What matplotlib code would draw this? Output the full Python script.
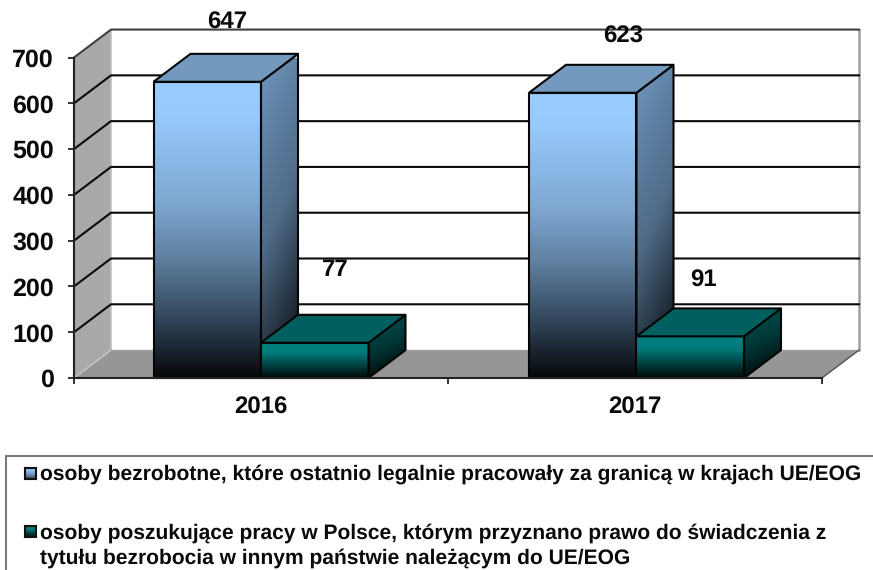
"""Unemployed persons chart with a hand-built 3D bar look."""

import matplotlib

matplotlib.use("Agg")

import matplotlib.pyplot as plt
import numpy as np
from matplotlib.colors import LinearSegmentedColormap
from matplotlib.patches import Polygon, Rectangle

years = ["2016", "2017"]
unemployed = [647, 623]
job_seekers = [77, 91]
y_ticks = [0, 100, 200, 300, 400, 500, 600, 700]
legend_first = "osoby bezrobotne, które ostatnio legalnie pracowały za granicą w krajach UE/EOG"
legend_second = [
    "osoby poszukujące pracy w Polsce, którym przyznano prawo do świadczenia z",
    "tytułu bezrobocia w innym państwie należącym do UE/EOG",
]

W, H = 873, 570
plt.rcParams["font.family"] = ["Liberation Sans", "DejaVu Sans"]
plt.rcParams["font.weight"] = "bold"
plt.rcParams["text.hinting"] = "none"
plt.rcParams["text.hinting_factor"] = 1

BLUE_FRONT = LinearSegmentedColormap.from_list(
    "bf", [(0, "#99CCFF"), (0.12, "#97C9FC"), (0.4, "#7FA8D2"), (0.6, "#5F80A0"), (0.8, "#33475C"), (1, "#06080B")]
)
BLUE_SIDE = LinearSegmentedColormap.from_list(
    "bs", [(0, "#6A8EB4"), (0.15, "#5F82A6"), (0.5, "#4F6B87"), (0.7, "#35495D"), (1, "#12171E")]
)
TEAL_FRONT = LinearSegmentedColormap.from_list("tf", [(0, "#008080"), (0.3, "#007A7A"), (1, "#000808")])
TEAL_SIDE = LinearSegmentedColormap.from_list("ts", [(0, "#005050"), (0.5, "#003434"), (1, "#000707")])

fig = plt.figure(figsize=(W / 100, H / 100), dpi=100)
ax = fig.add_axes([74 / W, (H - 378) / H, 748 / W, 320.5 / H])
ax.set_xlim(-0.5, 1.5)
ax.set_ylim(0, 700)

# depth of the fake 3D box, in data units
DX = 37 / 374
DY = 61
BAR_W = 107.5 / 374
GROUP_STEP = 1.004
YTOP = y_ticks[-1]


def face(points, color, z):
    ax.add_patch(Polygon(points, closed=True, fc=color, ec="none", zorder=z, clip_on=False))


def gradient_face(points, cmap, z, diagonal=False):
    xs = [p[0] for p in points]
    ys = [p[1] for p in points]
    extent = [min(xs), max(xs), min(ys), max(ys)]
    t = np.linspace(0, 1, 128)[:, None]
    grad = np.repeat(t, 32, axis=1)
    if diagonal:
        grad = np.clip(grad + (np.linspace(0, 0.24, 32)[None, :] - 0.12), 0, 1)
    im = ax.imshow(grad, cmap=cmap, vmin=0, vmax=1, extent=extent, origin="upper",
                   aspect="auto", zorder=z, interpolation="bilinear")
    clip = Polygon(points, closed=True, transform=ax.transData)
    im.set_clip_path(clip)
    ax.add_patch(Polygon(points, closed=True, fc="none", ec="#050505", lw=1.5, zorder=z + 0.1,
                         clip_on=False, joinstyle="round"))


def bar_3d(x0, value, front, side, top, z):
    x1 = x0 + BAR_W
    gradient_face([(x0, 0), (x1, 0), (x1, value), (x0, value)], front, z)
    gradient_face([(x1, 0), (x1 + DX, DY), (x1 + DX, value + DY), (x1, value)], side, z, diagonal=True)
    ax.add_patch(Polygon([(x0, value), (x1, value), (x1 + DX, value + DY), (x0 + DX, value + DY)],
                         closed=True, fc=top, ec="#050505", lw=1.5, zorder=z + 0.1, clip_on=False))


# walls and floor
x_l, x_r = ax.get_xlim()
face([(x_l, 0), (x_l + DX, DY), (x_l + DX, YTOP + DY), (x_l, YTOP)], "#A9A9A9", 1)
face([(x_l, 0), (x_r, 0), (x_r + DX, DY), (x_l + DX, DY)], "#969696", 1)
ax.plot([x_l, x_l + DX], [0, DY], color="#C8C8C8", lw=1, zorder=1.2, clip_on=False)
ax.plot([x_l + DX, x_l + DX], [DY, YTOP + DY], color="#C0C0C0", lw=1.2, zorder=1.2, clip_on=False)
ax.plot([x_r + DX, x_r + DX], [DY, YTOP + DY], color="#A0A0A0", lw=1.8, zorder=1.2, clip_on=False)
ax.plot([x_l + DX, x_r + DX], [DY, DY], color="#A0A0A0", lw=1, zorder=1.2, clip_on=False)

for v in y_ticks[1:]:
    colour = "#404040" if v == YTOP else "#0A0A0A"
    ax.plot([x_l, x_l + DX, x_r + DX], [v, v + DY, v + DY], color=colour, lw=1.5, zorder=2, clip_on=False)
ax.plot([x_r, x_r + DX], [0, DY], color="#505050", lw=1, zorder=2, clip_on=False)

for i in range(len(years)):
    bar_3d(i * GROUP_STEP - BAR_W, unemployed[i], BLUE_FRONT, BLUE_SIDE, "#7399BF", 3 + i * 2)
    bar_3d(i * GROUP_STEP, job_seekers[i], TEAL_FRONT, TEAL_SIDE, "#006060", 4 + i * 2)

ax.set_xlim(x_l, x_r)
ax.set_ylim(0, 700)

# value labels sit well away from the bars, offsets in pixels
label_offsets = [(-34, 59), (74, 73), (-12, 56), (69, 56)]
label_values = [unemployed[0], job_seekers[0], unemployed[1], job_seekers[1]]
label_x = [0, 0, 1, 1]
for x, val, off in zip(label_x, label_values, label_offsets):
    ax.annotate(str(val), (x, val), xytext=(off[0] * 0.72, off[1] * 0.72), textcoords="offset points",
                ha="center", va="center", fontsize=17.5, color="#0A0A0A", zorder=20, annotation_clip=False)

for s in ("top", "right"):
    ax.spines[s].set_visible(False)
for s in ("left", "bottom"):
    ax.spines[s].set_linewidth(1.5)
    ax.spines[s].set_color("#222222")
    ax.spines[s].set_zorder(15)
ax.patch.set_alpha(0)

ax.set_yticks(y_ticks)
ax.set_yticklabels([str(v) for v in y_ticks], fontsize=18, color="#0A0A0A")
ax.tick_params(axis="y", length=4.5, width=1.3, pad=9.8, color="#222222")
ax.set_xticks([-0.5, 0.5, 1.5])
ax.set_xticklabels(["", "", ""])
ax.tick_params(axis="x", length=4.5, width=1.3, color="#222222")
for i, year in enumerate(years):
    ax.text(i, -65, year, ha="center", va="center", fontsize=17.5, color="#0A0A0A")


def px(x, y):
    return x / W, 1 - y / H


# legend box runs off the right and bottom edges
fig.add_artist(Rectangle(px(6, 590), 880 / W, 134 / H, transform=fig.transFigure,
                         fc="white", ec="#7A7A7A", lw=1.5, zorder=-1))


def swatch(y, cmap, stop):
    sw = fig.add_axes([25 / W, 1 - (y + 5.5) / H, 11 / W, 11 / H])
    sw.imshow(np.linspace(0, stop, 32)[:, None], cmap=cmap, aspect="auto", vmin=0, vmax=1)
    sw.set_xticks([])
    sw.set_yticks([])
    for sp in sw.spines.values():
        sp.set_linewidth(1.5)
        sp.set_color("#111111")


swatch(473, BLUE_FRONT, 0.75)
swatch(531, TEAL_FRONT, 1)

LEG_SIZE = 15.4
fig.text(*px(40, 474), legend_first, fontsize=LEG_SIZE, va="center", color="#0A0A0A")
fig.text(*px(40, 533), legend_second[0], fontsize=LEG_SIZE, va="center", color="#0A0A0A")
fig.text(*px(40, 558), legend_second[1], fontsize=LEG_SIZE, va="center", color="#0A0A0A")

fig.savefig("out.png", dpi=100)
